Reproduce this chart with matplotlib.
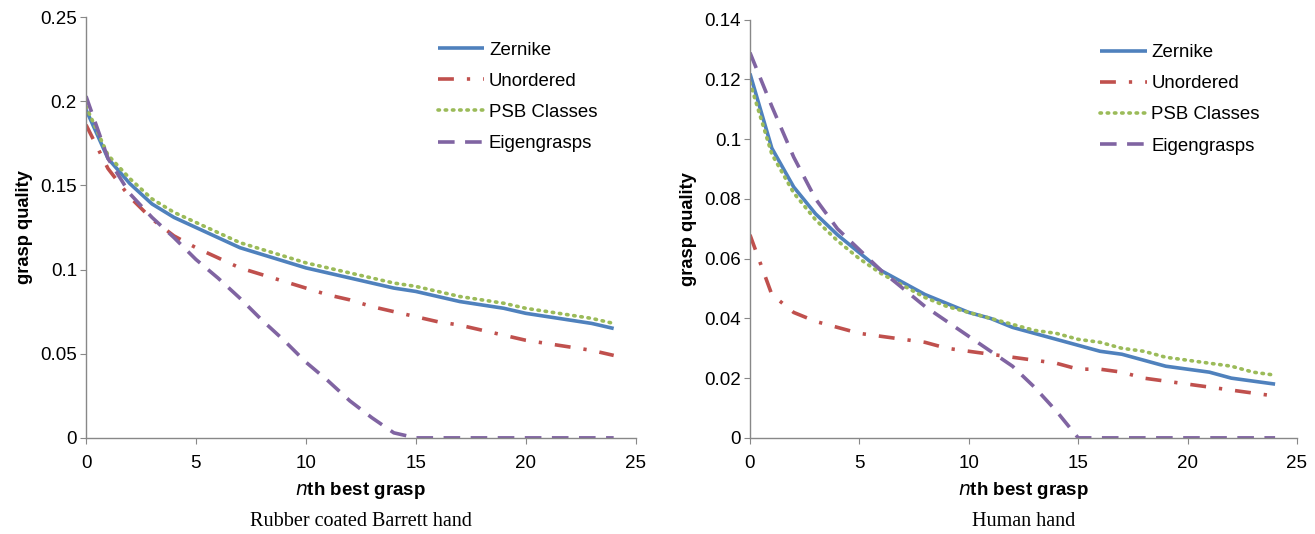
import numpy as np
import matplotlib
matplotlib.use("Agg")
import matplotlib.pyplot as plt

# nth best grasp index
n = list(range(25))

# Rubber coated Barrett hand
barrett_zernike = [0.195, 0.166, 0.151, 0.139, 0.131, 0.125, 0.119, 0.113, 0.109, 0.105, 0.101,
                   0.098, 0.095, 0.092, 0.089, 0.087, 0.084, 0.081, 0.079, 0.077, 0.074,
                   0.072, 0.070, 0.068, 0.065]
barrett_unordered = [0.186, 0.160, 0.143, 0.130, 0.120, 0.113, 0.107, 0.101, 0.097, 0.093, 0.089,
                     0.085, 0.082, 0.078, 0.075, 0.072, 0.069, 0.067, 0.064, 0.061, 0.058,
                     0.056, 0.054, 0.052, 0.049]
barrett_psb = [0.197, 0.168, 0.154, 0.142, 0.134, 0.128, 0.122, 0.116, 0.112, 0.108, 0.104,
               0.101, 0.098, 0.095, 0.092, 0.090, 0.087, 0.084, 0.082, 0.080, 0.077,
               0.075, 0.073, 0.071, 0.068]
barrett_eigen = [0.203, 0.166, 0.145, 0.131, 0.119, 0.106, 0.095, 0.083, 0.070, 0.058, 0.045,
                 0.034, 0.022, 0.012, 0.003, 0.0, 0.0, 0.0, 0.0, 0.0, 0.0,
                 0.0, 0.0, 0.0, 0.0]

# Human hand
human_zernike = [0.122, 0.097, 0.084, 0.075, 0.068, 0.062, 0.056, 0.052, 0.048, 0.045, 0.042,
                 0.040, 0.037, 0.035, 0.033, 0.031, 0.029, 0.028, 0.026, 0.024, 0.023,
                 0.022, 0.020, 0.019, 0.018]
human_unordered = [0.068, 0.048, 0.042, 0.039, 0.037, 0.035, 0.034, 0.033, 0.032, 0.030, 0.029,
                   0.028, 0.027, 0.026, 0.025, 0.023, 0.023, 0.022, 0.020, 0.019, 0.018,
                   0.017, 0.016, 0.015, 0.014]
human_psb = [0.119, 0.095, 0.082, 0.073, 0.066, 0.060, 0.055, 0.051, 0.047, 0.044, 0.042,
             0.040, 0.038, 0.036, 0.035, 0.033, 0.032, 0.030, 0.029, 0.027, 0.026,
             0.025, 0.024, 0.022, 0.021]
human_eigen = [0.129, 0.111, 0.094, 0.080, 0.070, 0.063, 0.056, 0.050, 0.044, 0.039, 0.034,
               0.029, 0.024, 0.017, 0.009, 0.0, 0.0, 0.0, 0.0, 0.0, 0.0,
               0.0, 0.0, 0.0, 0.0]

series_names = ["Zernike", "Unordered", "PSB Classes", "Eigengrasps"]
colors = ["#4F81BD", "#C0504D", "#9BBB59", "#8064A2"]
styles = ["-", (0, (4.4, 3.6, 0.9, 3.6)), (0, (0.4, 1.6)), (0, (4.6, 2.9))]
caps = ["projecting", "butt", "round", "butt"]

plt.rcParams['font.family'] = ['Liberation Sans', 'DejaVu Sans']

fig = plt.figure(figsize=(13.15, 5.34), dpi=100)
ax1 = fig.add_axes([0.0654, 0.18, 0.418, 0.788])
ax2 = fig.add_axes([0.5703, 0.18, 0.416, 0.783])

panels = [
    (ax1, [barrett_zernike, barrett_unordered, barrett_psb, barrett_eigen],
     0.25, 0.05, "Rubber coated Barrett hand"),
    (ax2, [human_zernike, human_unordered, human_psb, human_eigen],
     0.14, 0.02, "Human hand"),
]

for ax, data, ymax, ystep, caption in panels:
    for vals, name, c, ls, cap in zip(data, series_names, colors, styles, caps):
        ax.plot(n, vals, color=c, linestyle=ls, linewidth=2.6, label=name,
                dash_capstyle=cap, solid_capstyle="butt")
    ax.set_xlim(0, 25)
    ax.set_ylim(0, ymax)
    ax.set_xticks(range(0, 26, 5))
    yt = np.round(np.arange(0, ymax + ystep / 2, ystep), 3)
    ax.set_yticks(yt)
    ax.set_yticklabels(["0" if v == 0 else ("%g" % v) for v in yt])
    for s in ["top", "right"]:
        ax.spines[s].set_visible(False)
    for s in ["left", "bottom"]:
        ax.spines[s].set_color("#888888")
        ax.spines[s].set_linewidth(1.0)
    ax.tick_params(axis="both", direction="out", color="#888888", length=4,
                   labelsize=13.5)
    ax.tick_params(axis="y", pad=2.5)
    ax.tick_params(axis="x", pad=8)
    ax.set_ylabel("grasp quality", fontsize=13.2, fontweight="bold", labelpad=5)
    ax.set_xlabel(r"$\bf{\it{n}}$th best grasp", fontsize=13.5, fontweight="bold", labelpad=6)
    ax.legend(loc="upper left", bbox_to_anchor=(0.64, 0.942), frameon=False,
              borderaxespad=0, borderpad=0,
              fontsize=13.4, handlelength=2.5, handletextpad=0.25, labelspacing=0.76)
    pos = ax.get_position()
    fig.text(pos.x0 + pos.width / 2, 12 / 534, caption, ha="center", va="center",
             fontsize=14.5, family=["Liberation Serif", "DejaVu Serif"])

fig.savefig("out.png", dpi=100)
